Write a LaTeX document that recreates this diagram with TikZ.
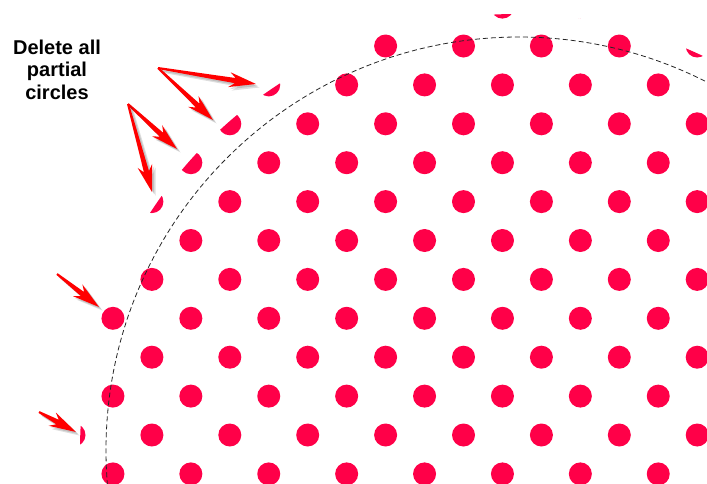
\documentclass[tikz,border=0pt]{standalone}
\usepackage{fontspec}
\setmainfont{Liberation Sans}
\usetikzlibrary{calc}
\definecolor{dotred}{RGB}{255,0,72}
\definecolor{arrred}{RGB}{255,0,0}
\tikzset{
  dotstyle/.style={fill=dotred},
  dashcirc/.style={draw=black!85, line width=0.8pt, dash pattern=on 5pt off 3pt},
  arrowbody/.style={fill=arrred},
  arrowshadow/.style={fill=black, opacity=0.13},
  labeltext/.style={font=\bfseries\fontsize{20}{22.5}\selectfont, align=center, inner sep=0pt}
}
\newcommand{\arrowpoly}[2]{($(#1)!1pt!90:(#2)$) -- ($(sN)!2.6pt!-90:(#1)$) -- ($(sB)!7.5pt!-90:(#1)$) -- (#2) -- ($(sB)!7.5pt!90:(#1)$) -- ($(sN)!2.6pt!90:(#1)$) -- ($(#1)!1pt!-90:(#2)$) -- cycle}
\newcommand{\snagarrow}[2]{%
  \coordinate (sN) at ($(#2)!21pt!(#1)$);
  \coordinate (sB) at ($(#2)!27pt!(#1)$);
  \fill[arrowshadow, transform canvas={shift={(3.5pt,-3.5pt)}}] \arrowpoly{#1}{#2};
  \fill[arrowshadow, transform canvas={shift={(2pt,-2pt)}}] \arrowpoly{#1}{#2};
  \fill[arrowbody] \arrowpoly{#1}{#2};
}
\begin{document}
\begin{tikzpicture}[x=1pt,y=-1pt]
\useasboundingbox (0,0) rectangle (707,483);
\coordinate (ctr) at (519,450);
\coordinate (clipctr) at (516,450);
% dot lattice clipped by the outer circle
\begin{scope}
  \clip (clipctr) circle (436pt);
  \foreach \i in {-2,...,18} {
    \foreach \k in {-2,...,12} {
      \pgfmathtruncatemacro\pp{mod(\i+\k+100,2)}
      \ifnum\pp=0
        \fill[dotstyle] ({74+38.95*\i},{46+38.9*\k}) circle (11.5pt);
      \fi
    }
  }
\end{scope}
% dashed guide circle
\draw[dashcirc] (ctr) circle (413pt);
% label (base anchor = baseline of last line)
\node[labeltext, anchor=base] (label) at (57,99) {Delete all\\partial\\circles};
% arrows
\coordinate (t1) at (158,68);
\coordinate (h1) at (256,84);
\coordinate (h2) at (213,120);
\coordinate (t3) at (128,104);
\coordinate (h3) at (177,149);
\coordinate (h4) at (152,192);
\coordinate (t5) at (57,274);
\coordinate (h5) at (99,307);
\coordinate (t6) at (39,412);
\coordinate (h6) at (76,432);
\snagarrow{t1}{h1}
\snagarrow{t1}{h2}
\snagarrow{t3}{h3}
\snagarrow{t3}{h4}
\snagarrow{t5}{h5}
\snagarrow{t6}{h6}
\end{tikzpicture}
\end{document}
